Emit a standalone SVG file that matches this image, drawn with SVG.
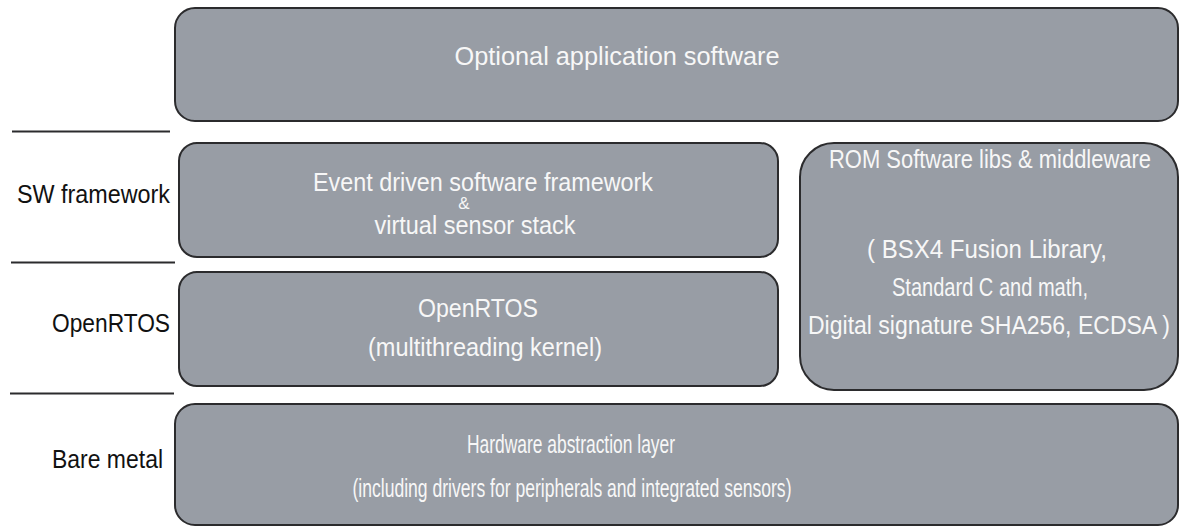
<svg xmlns="http://www.w3.org/2000/svg" width="1179" height="527" viewBox="0 0 1179 527">
<style>
.box{fill:#989da5;stroke:#2b2b2d;stroke-width:2}
.t{font-family:"Liberation Sans",Arial,sans-serif;font-size:25px;fill:#f7f7f7;text-anchor:middle}
.l{font-family:"Liberation Sans",Arial,sans-serif;font-size:25px;fill:#111}
.sep{stroke:#2b2b2d;stroke-width:2}
</style>
<rect width="1179" height="527" fill="#ffffff"/>
<g id="separators">
<line class="sep" x1="12" y1="131.5" x2="170" y2="131.5"/>
<line class="sep" x1="11" y1="262.5" x2="175" y2="262.5"/>
<line class="sep" x1="10" y1="393.5" x2="174" y2="393.5"/>
</g>
<g id="labels">
<text class="l" x="17" y="203" textLength="153" lengthAdjust="spacingAndGlyphs">SW framework</text>
<text class="l" x="52" y="332" textLength="118" lengthAdjust="spacingAndGlyphs">OpenRTOS</text>
<text class="l" x="52" y="468" textLength="111" lengthAdjust="spacingAndGlyphs">Bare metal</text>
</g>
<g id="app">
<rect class="box" x="175" y="8" width="1003" height="113" rx="20"/>
<text class="t" x="617" y="65" textLength="325" lengthAdjust="spacingAndGlyphs">Optional application software</text>
</g>
<g id="framework">
<rect class="box" x="179" y="143" width="599" height="114" rx="18"/>
<text class="t" x="483" y="191" textLength="340" lengthAdjust="spacingAndGlyphs">Event driven software framework</text>
<text class="t" x="464" y="209" style="font-size:17px">&amp;</text>
<text class="t" x="475" y="234" textLength="201" lengthAdjust="spacingAndGlyphs">virtual sensor stack</text>
</g>
<g id="openrtos">
<rect class="box" x="179" y="272" width="599" height="114" rx="18"/>
<text class="t" x="478" y="317" textLength="120" lengthAdjust="spacingAndGlyphs">OpenRTOS</text>
<text class="t" x="485" y="356" textLength="234" lengthAdjust="spacingAndGlyphs">(multithreading kernel)</text>
</g>
<g id="rom">
<rect class="box" x="800" y="143" width="378" height="247" rx="34"/>
<text class="t" x="990" y="168" textLength="322" lengthAdjust="spacingAndGlyphs">ROM Software libs &amp; middleware</text>
<text class="t" x="987" y="258" textLength="240" lengthAdjust="spacingAndGlyphs">( BSX4 Fusion Library,</text>
<text class="t" x="990" y="296" textLength="196" lengthAdjust="spacingAndGlyphs">Standard C and math,</text>
<text class="t" x="989" y="334" textLength="362" lengthAdjust="spacingAndGlyphs">Digital signature SHA256, ECDSA )</text>
</g>
<g id="hal">
<rect class="box" x="175" y="404" width="1003" height="121" rx="20"/>
<text class="t" x="571" y="453" textLength="208" lengthAdjust="spacingAndGlyphs">Hardware abstraction layer</text>
<text class="t" x="572" y="497" textLength="439" lengthAdjust="spacingAndGlyphs">(including drivers for peripherals and integrated sensors)</text>
</g>
<g id="connectors"></g>
</svg>
